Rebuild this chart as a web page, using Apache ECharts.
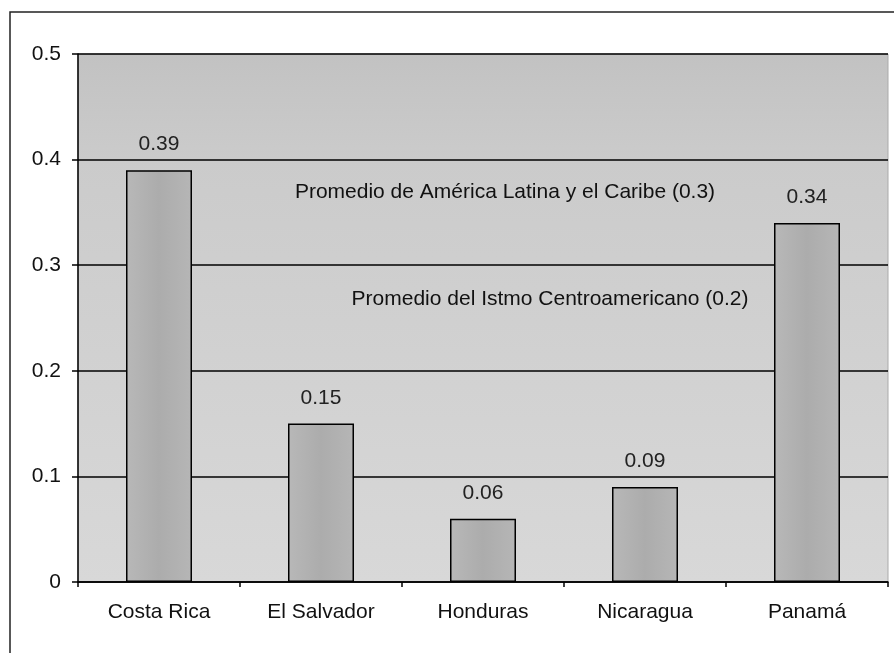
<!DOCTYPE html>
<html><head><meta charset="utf-8">
<script src="https://cdn.jsdelivr.net/npm/echarts@6/dist/echarts.min.js"></script>
<style>html,body{margin:0;padding:0;background:#fff}#c{width:894px;height:653px}</style>
</head><body><div id="c"></div>
<script>
const categories = ['Costa Rica', 'El Salvador', 'Honduras', 'Nicaragua', 'Panamá'];
const values = [0.39, 0.15, 0.06, 0.09, 0.34];
const yTicks = [0, 0.1, 0.2, 0.3, 0.4, 0.5];
const notes = [
  {text: 'Promedio de América Latina y el Caribe (0.3)', cat: 2, y: 0.369, dx: 22},
  {text: 'Promedio del Istmo Centroamericano (0.2)', cat: 2, y: 0.268, dx: 67}
];
const chart = echarts.init(document.getElementById('c'));
const font = 'Arial, "Liberation Sans", sans-serif';
const fs = 21;
chart.setOption({
  animation: false,
  backgroundColor: '#fff',
  graphic: [{type: 'rect', shape: {x: 10, y: 12, width: 900, height: 660}, style: {fill: 'none', stroke: '#222', lineWidth: 1.5}, z: -1}],
  grid: {left: 78, right: 6, top: 54, bottom: 71, show: true, borderWidth: 1, borderColor: '#aaa',
    backgroundColor: {type: 'linear', x: 0, y: 0, x2: 0, y2: 1, colorStops: [{offset: 0, color: '#c2c2c2'}, {offset: 0.2, color: '#cbcbcb'}, {offset: 1, color: '#d8d8d8'}]}},
  xAxis: {type: 'category', data: categories,
    axisLine: {lineStyle: {color: '#000', width: 1.5}},
    axisTick: {show: true, length: 5, lineStyle: {color: '#000', width: 1.5}},
    axisLabel: {color: '#111', fontSize: fs, fontFamily: font, margin: 20}},
  yAxis: {type: 'value', min: 0, max: 0.5, interval: 0.1,
    axisLine: {show: true, lineStyle: {color: '#000', width: 1.5}},
    axisTick: {show: true, length: 6, lineStyle: {color: '#000', width: 1.5}},
    axisLabel: {color: '#111', fontSize: fs, fontFamily: font, margin: 17,
      formatter: v => { const t = yTicks.find(k => Math.abs(k - v) < 1e-9); return t === undefined ? '' : String(+t.toFixed(1)); }},
    splitLine: {show: true, lineStyle: {color: '#000', width: 1.5}}},
  series: [{
    type: 'bar', data: values, barWidth: 66,
    itemStyle: {color: {type: 'linear', x: 0, y: 0, x2: 1, y2: 0, colorStops: [{offset: 0, color: '#b8b8b8'}, {offset: 0.5, color: '#acacac'}, {offset: 1, color: '#b6b6b6'}]}, borderColor: '#000', borderWidth: 1.5},
    label: {show: true, position: 'top', distance: 15, color: '#222', fontSize: fs, fontFamily: font, formatter: p => p.value.toFixed(2)},
    markPoint: {symbol: 'circle', symbolSize: 0,
      data: notes.map(n => ({coord: [n.cat, n.y], value: n.text,
        label: {show: true, position: 'inside', offset: [n.dx, 0], formatter: n.text, color: '#111', fontSize: fs, fontFamily: font}}))}
  }]
});
</script></body></html>
